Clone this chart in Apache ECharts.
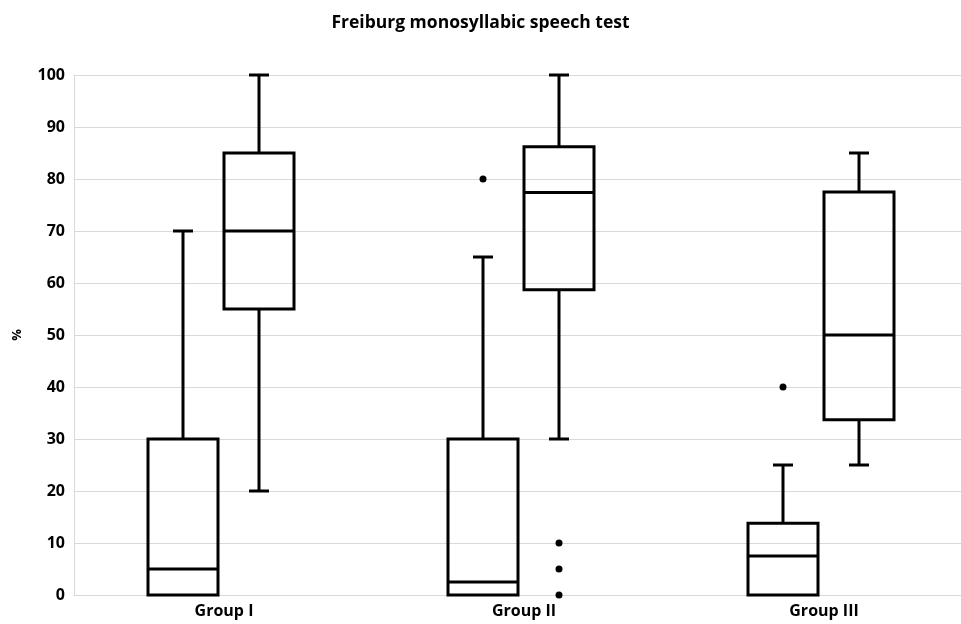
<!DOCTYPE html>
<html>
<head>
<meta charset="utf-8">
<script src="https://cdn.jsdelivr.net/npm/echarts@6/dist/echarts.min.js"></script>
<style>
  html, body { margin: 0; padding: 0; background: #fff; }
  #chart { width: 961px; height: 624px; }
</style>
</head>
<body>
<div id="chart"></div>
<script>
// Groups along the category axis
const categories = ['Group I', 'Group II', 'Group III'];

// Five-number summaries per group: [min, Q1, median, Q3, max]
const firstStats = [
  [0, 0, 5, 30, 70],
  [0, 0, 2.5, 30, 65],
  [0, 0, 7.5, 13.8, 25]
];
const secondStats = [
  [20, 55, 70, 85, 100],
  [30, 58.7, 77.4, 86.2, 100],
  [25, 33.7, 50, 77.5, 85]
];

// Outliers: [group index, value]
const firstOutliers = [[1, 80], [2, 40]];
const secondOutliers = [[1, 10], [1, 5], [1, 0]];

// Y axis ticks
const yMin = 0, yMax = 100, yStep = 10;

// Horizontal placement of the two boxes inside each category band (px)
const FIRST_OFFSET = -41;
const SECOND_OFFSET = 35;
const BOX_WIDTH = 70;
const CAP_WIDTH = 20;
const LINE_W = 3;

const FONT = 'Open Sans';

function boxRenderer(offset) {
  return function (params, api) {
    const cat = api.value(0);
    const cx = api.coord([cat, 0])[0] + offset;
    const y = (dim) => api.coord([cat, api.value(dim)])[1];
    const yLo = y(1), yQ1 = y(2), yMed = y(3), yQ3 = y(4), yHi = y(5);
    const half = BOX_WIDTH / 2, cap = CAP_WIDTH / 2;
    const stroke = { stroke: '#000', lineWidth: LINE_W, fill: null };
    const line = (x1, y1, x2, y2) => ({
      type: 'line', shape: { x1, y1, x2, y2 }, style: stroke
    });
    const parts = [];
    // upper whisker and cap
    if (yHi < yQ3) {
      parts.push(line(cx, yQ3, cx, yHi), line(cx - cap, yHi, cx + cap, yHi));
    }
    // lower whisker and cap
    if (yLo > yQ1) {
      parts.push(line(cx, yQ1, cx, yLo), line(cx - cap, yLo, cx + cap, yLo));
    }
    parts.push(
      {
        type: 'rect',
        shape: { x: cx - half, y: yQ3, width: BOX_WIDTH, height: yQ1 - yQ3 },
        style: { stroke: '#000', lineWidth: LINE_W, fill: 'rgba(0,0,0,0)' }
      },
      line(cx - half, yMed, cx + half, yMed)
    );
    return { type: 'group', children: parts };
  };
}

function boxData(stats) {
  return stats.map((s, i) => [i].concat(s));
}

const chart = echarts.init(document.getElementById('chart'), null, { renderer: 'canvas' });

chart.setOption({
  backgroundColor: '#fff',
  animation: false,
  title: {
    text: 'Freiburg monosyllabic speech test',
    left: 'center',
    top: 9,
    textStyle: { fontFamily: FONT, fontWeight: 'bold', fontSize: 17.5, color: '#000' }
  },
  grid: {
    left: 74, right: -13, top: 75, bottom: 29,
    containLabel: false,
    outerBoundsMode: 'none'
  },
  xAxis: {
    type: 'category',
    data: categories,
    boundaryGap: true,
    axisLine: { show: true, lineStyle: { color: '#d9d9d9', width: 1 } },
    axisTick: { show: false },
    axisLabel: {
      margin: 8,
      fontFamily: FONT, fontWeight: 'bold', fontSize: 16, color: '#000'
    },
    splitLine: { show: false }
  },
  yAxis: {
    type: 'value',
    min: yMin, max: yMax, interval: yStep,
    name: '%',
    nameLocation: 'middle',
    nameGap: 50,
    nameRotate: 90,
    nameTextStyle: { fontFamily: FONT, fontWeight: 'bold', fontSize: 13, color: '#000' },
    axisLine: { show: true, lineStyle: { color: '#d9d9d9', width: 1 } },
    axisTick: { show: false },
    axisLabel: {
      margin: 9,
      fontFamily: FONT, fontWeight: 'bold', fontSize: 16, color: '#000'
    },
    splitLine: { show: true, lineStyle: { color: '#d9d9d9', width: 1 } }
  },
  series: [
    {
      name: 'set A',
      type: 'custom',
      renderItem: boxRenderer(FIRST_OFFSET),
      encode: { x: 0, y: [1, 2, 3, 4, 5] },
      data: boxData(firstStats),
      z: 3
    },
    {
      name: 'set B',
      type: 'custom',
      renderItem: boxRenderer(SECOND_OFFSET),
      encode: { x: 0, y: [1, 2, 3, 4, 5] },
      data: boxData(secondStats),
      z: 3
    },
    {
      name: 'set A outliers',
      type: 'scatter',
      data: firstOutliers,
      symbol: 'circle',
      symbolSize: 7,
      symbolOffset: [FIRST_OFFSET, 0],
      itemStyle: { color: '#000', opacity: 1 },
      z: 4
    },
    {
      name: 'set B outliers',
      type: 'scatter',
      data: secondOutliers,
      symbol: 'circle',
      symbolSize: 7,
      symbolOffset: [SECOND_OFFSET, 0],
      itemStyle: { color: '#000', opacity: 1 },
      z: 4
    }
  ]
});
</script>
</body>
</html>
